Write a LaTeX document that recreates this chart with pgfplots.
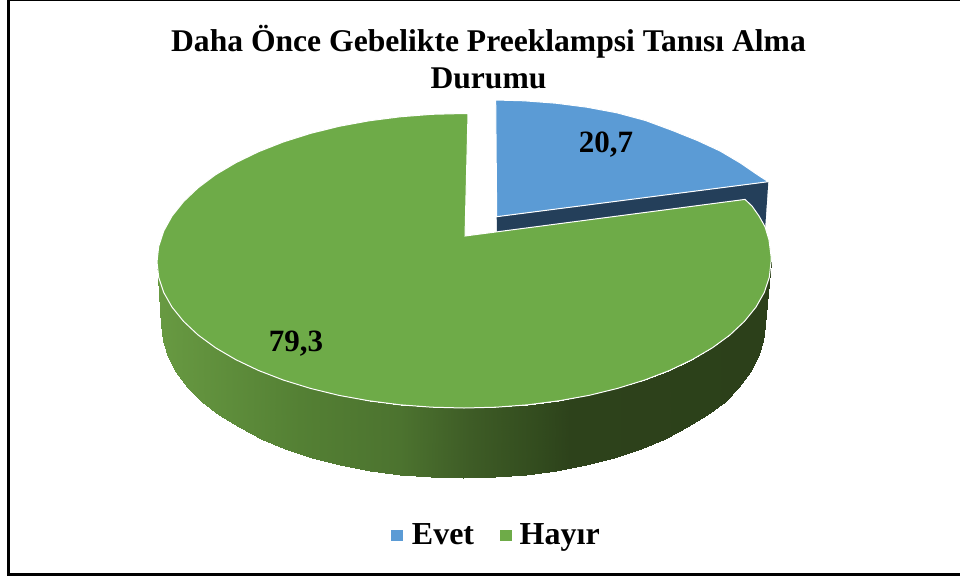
\documentclass[border=0pt]{standalone}
\usepackage{fontspec}
\setmainfont{Liberation Serif}
\usepackage{pgfplots}
\usepgfplotslibrary{patchplots}
\pgfplotsset{compat=1.18}
\definecolor{evet}{RGB}{91,155,213}
\definecolor{evetside}{RGB}{36,63,90}
\definecolor{hayir}{RGB}{110,171,72}
\begin{document}
\begin{tikzpicture}
\begin{axis}[
  width=960pt,height=579pt,scale only axis,
  xmin=0,xmax=960,ymin=0,ymax=579,y dir=reverse,
  axis lines=none,
  colormap={wall}{rgb255(0pt)=(104,154,66); rgb255(143pt)=(84,128,52); rgb255(243pt)=(76,115,47); rgb255(313pt)=(62,92,38); rgb255(383pt)=(50,75,30); rgb255(413pt)=(45,66,27); rgb255(614pt)=(44,64,26)},
  point meta min=157,point meta max=771,
  legend columns=2,
  legend style={at={(axis cs:496.5,535)},anchor=center,draw=none,fill=none,
    font=\fontsize{32}{32}\selectfont\bfseries,
    /tikz/column 1/.style={column sep=8pt},
    /tikz/column 2/.style={column sep=24pt},
    /tikz/column 3/.style={column sep=7pt}},
  legend cell align=left,
]
\addlegendimage{only marks,mark=square*,mark size=5.3pt,mark options={draw=evet,fill=evet}}
\addlegendentry{Evet}
\addlegendimage{only marks,mark=square*,mark size=5.3pt,mark options={draw=hayir,fill=hayir}}
\addlegendentry{Hayır}
% frame
\addplot[black,line width=3pt,forget plot] coordinates {(8.5,0)(8.5,574.5)(960,574.5)};
\addplot[black,line width=1.5pt,forget plot] coordinates {(8.5,0.5)(960,0.5)};
% side wall of the large slice
\addplot[patch,patch type=rectangle,shader=interp,point meta=x,forget plot] table {
x y
771 262
769.3 277.3
763.3 341
765 325
769.3 277.3
764.3 292.4
758.4 356.8
763.3 341
764.3 292.4
756 307.1
750.2 372.3
758.4 356.8
756 307.1
744.4 321.4
738.9 387.2
750.2 372.3
744.4 321.4
729.9 335
724.5 401.5
738.9 387.2
729.9 335
712.4 347.8
707.3 415
724.5 401.5
712.4 347.8
692.1 359.7
687.4 427.4
707.3 415
692.1 359.7
669.4 370.5
665 438.7
687.4 427.4
669.4 370.5
644.5 380.1
640.6 448.8
665 438.7
644.5 380.1
617.5 388.4
614 457.5
640.6 448.8
617.5 388.4
588.9 395.4
585.8 464.8
614 457.5
588.9 395.4
558.9 400.8
556.3 470.5
585.8 464.8
558.9 400.8
527.9 404.8
525.8 474.6
556.3 470.5
527.9 404.8
496.1 407.2
494.6 477.2
525.8 474.6
496.1 407.2
464 408
463 478
494.6 477.2
464 408
431.9 407.2
431.4 477.2
463 478
431.9 407.2
400.1 404.8
400.2 474.6
431.4 477.2
400.1 404.8
369.1 400.8
369.7 470.5
400.2 474.6
369.1 400.8
339.1 395.4
340.2 464.8
369.7 470.5
339.1 395.4
310.5 388.4
312 457.5
340.2 464.8
310.5 388.4
283.5 380.1
285.4 448.8
312 457.5
283.5 380.1
258.6 370.5
261 438.7
285.4 448.8
258.6 370.5
235.9 359.7
238.6 427.4
261 438.7
235.9 359.7
215.6 347.8
218.7 415
238.6 427.4
215.6 347.8
198.1 335
201.5 401.5
218.7 415
198.1 335
183.6 321.4
187.1 387.2
201.5 401.5
183.6 321.4
172 307.1
175.8 372.3
187.1 387.2
172 307.1
163.7 292.4
167.6 356.8
175.8 372.3
163.7 292.4
158.7 277.3
162.7 341
167.6 356.8
158.7 277.3
157 262
161 325
162.7 341
};
% side of the small slice
\addplot[fill=evetside,draw=none,forget plot] coordinates {(496.7,216.7)(768.3,181.7)(765,230)(497,235)} --cycle;
% small slice
\addplot[fill=evet,draw=white,line width=1pt,forget plot] coordinates {
(496.7,216.7)(495.7,100)(524.1,100.8)(555.9,103.2)(586.9,107.2)(616.9,112.8)(645.5,120.5)(672.5,130.5)(697.4,140.5)(720.1,151)(740.4,163)(757.9,175)(768.3,181.7)
} --cycle;
% large slice
\addplot[fill=hayir,draw=white,line width=1pt,forget plot] coordinates {
(465,236)(745,199.4)(752,206)(759,216)(765,226.7)(769,240)(771,256)(771,262)
(769.3,277.3)(764.3,292.4)(756,307.1)(744.4,321.4)(729.9,335)(712.4,347.8)(692.1,359.7)(669.4,370.5)(644.5,380.1)(617.5,388.4)(588.9,395.4)(558.9,400.8)(527.9,404.8)(496.1,407.2)(464,408)
(431.9,407.2)(400.1,404.8)(369.1,400.8)(339.1,395.4)(310.5,388.4)(283.5,380.1)(258.6,370.5)(235.9,359.7)(215.6,347.8)(198.1,335)(183.6,321.4)(172,307.1)(163.7,292.4)(158.7,277.3)(157,262)
(158.7,246.5)(163.7,231.1)(172,216.1)(183.6,201.6)(198.1,187.8)(215.6,174.7)(235.9,162.7)(258.6,151.7)(283.5,141.9)(310.5,133.4)(339.1,126.3)(369.1,120.8)(400.1,116.8)(431.9,114.3)(464,113.5)(468,113.5)
} --cycle;
% texts
\node[align=center,font=\fontsize{31.6}{37.5}\selectfont\bfseries] at (axis cs:488.5,57) {Daha Önce Gebelikte Preeklampsi Tanısı Alma\\Durumu};
\node[font=\fontsize{31}{31}\selectfont\bfseries] at (axis cs:606,144.5) {20,7};
\node[font=\fontsize{31}{31}\selectfont\bfseries] at (axis cs:296,343.5) {79,3};
\end{axis}
\pgfresetboundingbox
\path[use as bounding box] (current axis.south west) rectangle (current axis.north east);
\end{tikzpicture}
\end{document}
